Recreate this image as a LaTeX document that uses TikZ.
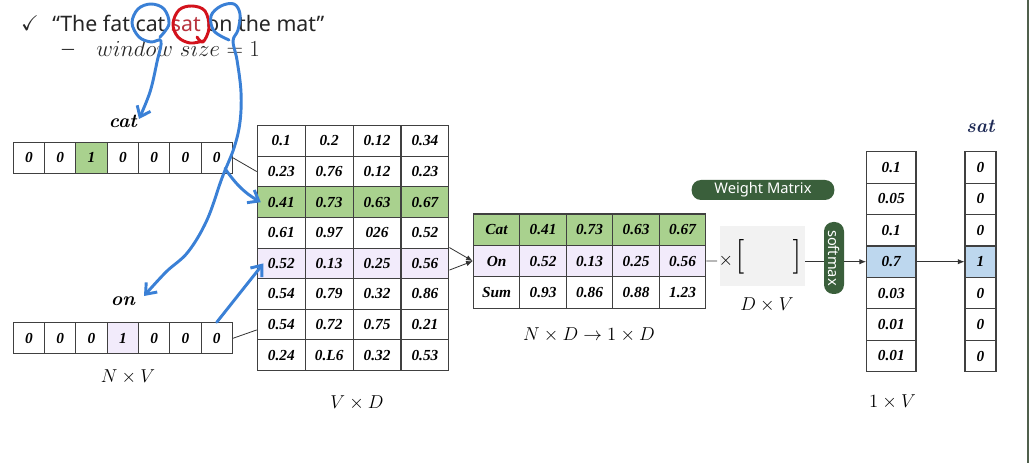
\RequirePackage{fix-cm}
\documentclass[tikz,border=0pt]{standalone}
\usepackage{amssymb}
\usepackage{fontspec}
\usepackage{xcolor}
\usepackage{tikz}
\usetikzlibrary{arrows.meta,calc,positioning}
\newfontfamily\cellfont{Liberation Serif}
\newfontfamily\slidefont{Noto Sans}
\newcommand\numfont{\cellfont\bfseries\itshape\fontsize{11.5}{13}\selectfont}
\newcommand\wordfont{\normalfont\bfseries\itshape\fontsize{14.5}{16}\selectfont}
\newcommand\dimfont{\normalfont\fontsize{14}{16}\selectfont}
\definecolor{wvgreen}{HTML}{A9D18E}
\definecolor{wvpurple}{HTML}{F2EBFB}
\definecolor{wvblue}{HTML}{BDD7EE}
\definecolor{wvpill}{HTML}{3A5F3B}
\definecolor{wvbox}{HTML}{F2F2F2}
\definecolor{wvline}{HTML}{333333}
\definecolor{wvgrid}{HTML}{404040}
\definecolor{wvpen}{HTML}{3A80D6}
\definecolor{wvred}{HTML}{D3121C}
\definecolor{wvsat}{HTML}{B8333E}
\definecolor{wvnavy}{HTML}{1E2A55}
\definecolor{wvedge}{HTML}{50604C}
\definecolor{wvtext}{HTML}{262626}
\tikzset{
  cell/.style={
    draw=wvgrid,
    line width=.8pt,
    inner sep=0pt,
    font=\numfont
  },
  cellplain/.style={fill=white},
  cellgreen/.style={fill=wvgreen},
  cellpurple/.style={fill=wvpurple},
  cellblue/.style={fill=wvblue},
  onehot/.style={cell, minimum width=23.5pt, minimum height=23.3pt},
  embcell/.style={cell, minimum width=35.9pt, minimum height=22.95pt},
  sumcell/.style={cell, minimum width=34.9pt, minimum height=23.55pt},
  probcell/.style={cell, minimum width=37pt, minimum height=23.57pt},
  satcell/.style={cell, minimum width=23.25pt, minimum height=23.57pt},
  wordlabel/.style={font=\wordfont, inner sep=1pt},
  dimlabel/.style={font=\dimfont, inner sep=1pt},
  slidetext/.style={font=\slidefont\fontsize{16}{19}\selectfont, text=wvtext, inner sep=0pt},
  pill/.style={
    fill=wvpill,
    text=white,
    rounded corners=7pt,
    inner sep=0pt,
    font=\slidefont\fontsize{11}{13}\selectfont
  },
  wire/.style={draw=wvline, line width=.6pt},
  wirearrow/.style={wire, -{Latex[length=5pt,width=4pt]}},
  pen/.style={draw=wvpen, line width=2.2pt, line cap=round, line join=round},
  penarrow/.style={pen, -{Straight Barb[length=7pt,width=11pt]}},
  redpen/.style={pen, draw=wvred}
}
\begin{document}
\begin{tikzpicture}[x=0.75pt,y=-0.75pt]
  \fill[white] (0,0) rectangle (1029,463);
  \useasboundingbox (0,0) rectangle (1029,463);

  % sentence
  \node[slidetext, anchor=base] (tick) at (30,31) {$\checkmark$};
  \node[slidetext, anchor=base west] (sentence) at (52,31.5)
    {“The fat cat \textcolor{wvsat}{sat} on the mat”};
  \node[slidetext, font=\slidefont\fontsize{10}{12}\selectfont, anchor=base] (dash) at (68,54) {—};
  \node[slidetext, font=\fontsize{17.2}{20}\selectfont, anchor=base west] (window) at (96,57) {$window\ size = 1$};

  % one-hot inputs
  \foreach \v/\sty [count=\i] in {0/cellplain,0/cellplain,1/cellgreen,0/cellplain,0/cellplain,0/cellplain,0/cellplain}
    \node[onehot, \sty] (cat-\i) at ({13.3+31.3*(\i-0.5)},157.8) {\v};
  \foreach \v/\sty [count=\i] in {0/cellplain,0/cellplain,0/cellplain,1/cellpurple,0/cellplain,0/cellplain,0/cellplain}
    \node[onehot, \sty] (on-\i) at ({13.3+31.3*(\i-0.5)},338.3) {\v};
  \node[wordlabel, above=9pt of cat-4] (catlbl) {cat};
  \node[wordlabel, above=11pt of on-4] (onlbl) {on};
  \node[dimlabel] (nv) at (128,377) {$N \times V$};

  % embedding matrix
  \foreach \row/\sty [count=\i] in {{0.1,0.2,0.12,0.34}/cellplain,{0.23,0.76,0.12,0.23}/cellplain,
      {0.41,0.73,0.63,0.67}/cellgreen,{0.61,0.97,026,0.52}/cellplain,{0.52,0.13,0.25,0.56}/cellpurple,
      {0.54,0.79,0.32,0.86}/cellplain,{0.54,0.72,0.75,0.21}/cellplain,{0.24,0.L6,0.32,0.53}/cellplain}
    \foreach \v [count=\j] in \row
      \node[embcell, \sty] (emb-\i-\j) at ({257.3+47.9*(\j-0.5)},{125.7+30.6*(\i-0.5)}) {\v};
  \node[dimlabel] (vd) at (357,403) {$V \times D$};

  % summed rows
  \foreach \row/\sty [count=\i] in {{Cat,0.41,0.73,0.63,0.67}/cellgreen,{On,0.52,0.13,0.25,0.56}/cellpurple,
      {Sum,0.93,0.86,0.88,1.23}/cellplain}
    \foreach \v [count=\j] in \row
      \node[sumcell, \sty] (tab-\i-\j) at ({473.3+46.5*(\j-0.5)},{214+31.4*(\i-0.5)}) {\v};
  \node[dimlabel] (ndd) at (589,335) {$N \times D \rightarrow 1 \times D$};

  % weight matrix
  \node[fill=wvbox, minimum width=63.75pt, minimum height=45pt, inner sep=0pt] (wbox) at (762.5,256) {};
  \node[inner sep=0pt, font=\fontsize{26}{28}\selectfont] (lbrk) at (740,257) {[};
  \node[inner sep=0pt, font=\fontsize{26}{28}\selectfont] (rbrk) at (797,257) {]};
  \node[dimlabel] (times) at (726,261) {$\times$};
  \node[pill, minimum width=107pt, minimum height=15pt] (wmlabel) at (763,190) {Weight Matrix};
  \node[dimlabel] (dv) at (767,305) {$D \times V$};
  \node[pill, rotate=-90, minimum width=54pt, minimum height=15pt] (softmax) at (834,258) {softmax};

  % output
  \foreach \p/\s/\sty [count=\i] in {0.1/0/cellplain,0.05/0/cellplain,0.1/0/cellplain,0.7/1/cellblue,
      0.03/0/cellplain,0.01/0/cellplain,0.01/0/cellplain}{
    \node[probcell, \sty] (prob-\i) at (891.3,{151.7+31.43*(\i-0.5)}) {\p};
    \node[satcell, \sty] (sat-\i) at (980.5,{151.7+31.43*(\i-0.5)}) {\s};
  }
  \node[wordlabel, text=wvnavy, above=13pt of sat-1] (satlbl) {sat};
  \node[dimlabel] (onev) at (892.5,402) {$1 \times V$};

  \draw[wire] (cat-7.east) -- (emb-2-1.west);
  \draw[wire] (on-7.east) -- ([yshift=-4pt]emb-7-1.west);
  \draw[wirearrow] (emb-5-4.north east) -- (tab-2-1.west);
  \draw[wirearrow] ([yshift=-5pt]emb-5-4.east) -- (tab-2-1.west);
  \draw[wire] (tab-2-5.east) -- (times.west);
  \draw[wire] (wbox.east |- prob-4.west) -- (softmax.south |- prob-4.west);
  \draw[wirearrow] (softmax.north |- prob-4.west) -- (prob-4.west);
  \draw[wirearrow] (prob-4.east) -- (sat-4.west);

  \draw[line width=1.2pt, wvedge] (1028,0) -- (1028,463);

  % pen marks
  \draw[redpen] plot[smooth, tension=.6] coordinates {(197,37) (203,42) (209,28) (205,11) (192,6) (179,10) (173,24) (178,37) (190,43) (203,41)};
  \draw[penarrow] plot[smooth, tension=.6] coordinates {(160,37) (169,24) (164,9) (151,4) (138,9) (132,23) (139,37) (151,42) (161,41)
    (157,62) (150,92) (139,119)};
  \draw[penarrow] plot[smooth, tension=.6] coordinates {(229,40) (214,31) (211,16) (221,6) (234,4) (240,14) (238,30) (233,41)
    (237,60) (241,92) (240,122) (234,148) (222,178) (207,220) (188,252) (166,272) (144,296)};
  \draw[penarrow] ([xshift=-6pt,yshift=4pt]cat-7.south east) to[out=-55,in=150] ([xshift=3pt]emb-3-1.west);
  \draw[penarrow] (on-7.north) -- ([xshift=5pt]emb-5-1.west);
\end{tikzpicture}
\end{document}
